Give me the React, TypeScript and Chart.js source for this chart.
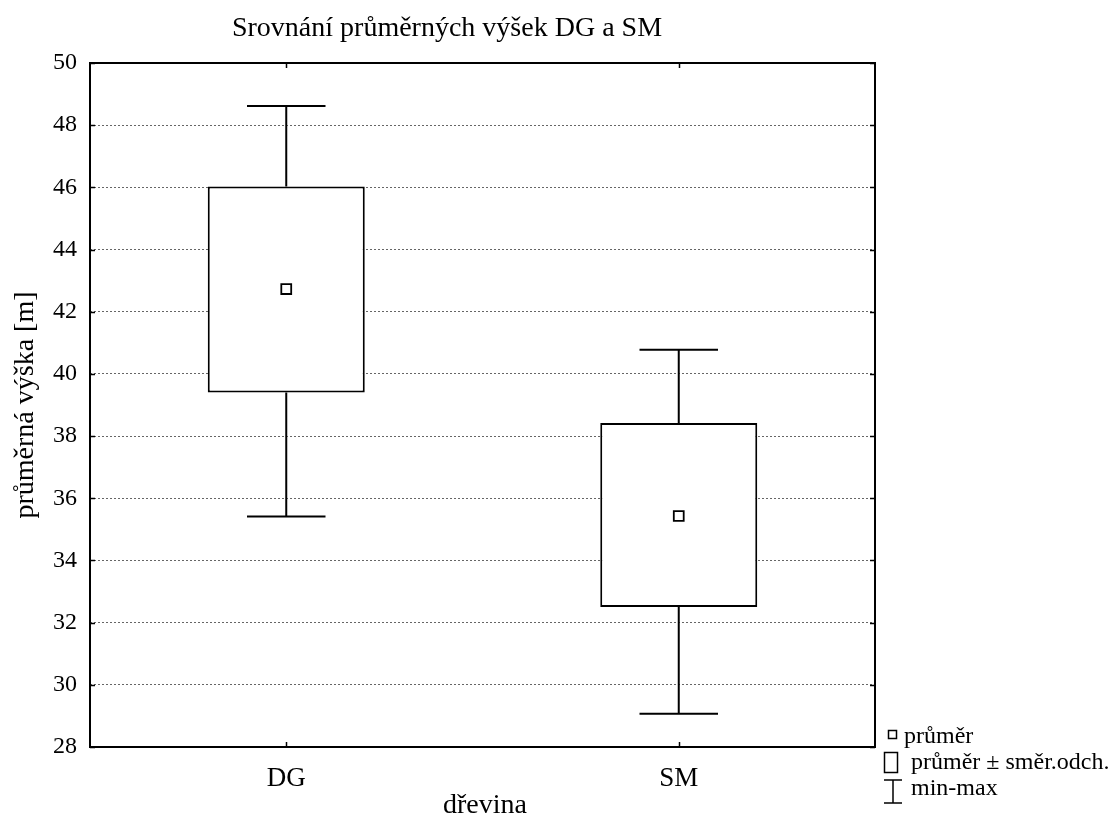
import { useEffect, useRef } from "react";
import { Chart, registerables } from "chart.js";
Chart.register(...registerables);

const categories = ["DG", "SM"];
const means = [42.73, 35.43];
const sdLow = [39.4, 32.5];
const sdHigh = [46.03, 38.42];
const minVals = [35.41, 29.07];
const maxVals = [48.62, 40.78];
const yMin = 28;
const yMax = 50;
const yStep = 2;
const titleText = "Srovnání průměrných výšek DG a SM";
const xTitle = "dřevina";
const yTitle = "průměrná výška [m]";
const legendLabels = ["průměr", "průměr ± směr.odch.", "min-max"];

const FONT = "'Liberation Serif', 'Times New Roman', serif";

const decorPlugin = {
  id: "decor",
  afterDatasetsDraw(chart: any) {
    const { ctx, scales } = chart;
    const x = scales.x;
    const y = scales.y;
    const barMeta = chart.getDatasetMeta(1);
    ctx.save();
    ctx.strokeStyle = "#000";
    ctx.lineWidth = 2;
    categories.forEach((_, i) => {
      const cx = x.getPixelForValue(i);
      const w = barMeta.data[i] ? barMeta.data[i].width : 150;
      const cap = w / 2;
      const yHi = y.getPixelForValue(sdHigh[i]);
      const yLo = y.getPixelForValue(sdLow[i]);
      const yMaxP = y.getPixelForValue(maxVals[i]);
      const yMinP = y.getPixelForValue(minVals[i]);
      ctx.beginPath();
      ctx.moveTo(cx, yHi);
      ctx.lineTo(cx, yMaxP);
      ctx.moveTo(cx - cap / 2, yMaxP);
      ctx.lineTo(cx + cap / 2, yMaxP);
      ctx.moveTo(cx, yLo);
      ctx.lineTo(cx, yMinP);
      ctx.moveTo(cx - cap / 2, yMinP);
      ctx.lineTo(cx + cap / 2, yMinP);
      ctx.stroke();
    });
    ctx.restore();
  },
  afterDraw(chart: any) {
    const { ctx, chartArea, scales } = chart;
    const { left, right, top, bottom } = chartArea;
    const y = scales.y;
    const x = scales.x;
    ctx.save();
    ctx.strokeStyle = "#000";
    ctx.lineWidth = 2;
    ctx.strokeRect(left, top, right - left, bottom - top);
    ctx.lineWidth = 1.5;
    ctx.beginPath();
    for (let v = yMin; v <= yMax; v += yStep) {
      const py = Math.round(y.getPixelForValue(v)) + 0.5;
      ctx.moveTo(left, py);
      ctx.lineTo(left + 5, py);
      ctx.moveTo(right, py);
      ctx.lineTo(right - 5, py);
    }
    categories.forEach((_, i) => {
      const px = Math.round(x.getPixelForValue(i)) + 0.5;
      ctx.moveTo(px, bottom);
      ctx.lineTo(px, bottom - 5);
      ctx.moveTo(px, top);
      ctx.lineTo(px, top + 5);
    });
    ctx.stroke();

    ctx.fillStyle = "#000";
    ctx.textAlign = "center";
    ctx.textBaseline = "middle";
    ctx.font = `28px ${FONT}`;
    ctx.fillText(titleText, 447, 29);
    ctx.fillText(xTitle, 485, 806);
    ctx.save();
    ctx.translate(26, (top + bottom) / 2);
    ctx.rotate(-Math.PI / 2);
    ctx.fillText(yTitle, 0, 0);
    ctx.restore();

    ctx.textAlign = "left";
    ctx.font = `24px ${FONT}`;
    ctx.lineWidth = 1.5;
    ctx.strokeRect(888.5, 730.5, 8, 8);
    ctx.fillText(legendLabels[0], 904, 737);
    ctx.strokeRect(884.5, 752.5, 13, 20);
    ctx.fillText(legendLabels[1], 911, 763);
    ctx.beginPath();
    ctx.moveTo(884, 780);
    ctx.lineTo(902, 780);
    ctx.moveTo(893, 780);
    ctx.lineTo(893, 803);
    ctx.moveTo(884, 803);
    ctx.lineTo(902, 803);
    ctx.stroke();
    ctx.fillText(legendLabels[2], 911, 789);
    ctx.restore();
  },
};

export default function App() {
  const ref = useRef<HTMLCanvasElement>(null);
  useEffect(() => {
    if (!ref.current) return;
    const chart = new Chart(ref.current, {
      type: "bar",
      data: {
        labels: categories,
        datasets: [
          {
            type: "line",
            label: legendLabels[0],
            data: means,
            showLine: false,
            pointStyle: "rect",
            pointRadius: 7,
            pointBackgroundColor: "#fff",
            pointBorderColor: "#000",
            pointBorderWidth: 1.8,
            order: 0,
          } as any,
          {
            type: "bar",
            label: legendLabels[1],
            data: categories.map((_, i) => [sdLow[i], sdHigh[i]]),
            backgroundColor: "#fff",
            borderColor: "#000",
            borderWidth: 2,
            borderSkipped: false,
            barPercentage: 0.4,
            categoryPercentage: 1,
            order: 1,
          } as any,
        ],
      },
      options: {
        animation: false,
        responsive: false,
        maintainAspectRatio: false,
        layout: { padding: { top: 63, right: 241, bottom: 0, left: 0 } },
        plugins: {
          legend: { display: false },
          title: { display: false },
          tooltip: { enabled: false },
        },
        scales: {
          x: {
            type: "category",
            grid: { display: false, drawTicks: false },
            border: { display: false },
            ticks: {
              color: "#000",
              font: { family: FONT, size: 27 },
              padding: 16,
            },
            afterFit(scale: any) {
              scale.height = 87;
            },
          },
          y: {
            min: yMin,
            max: yMax,
            grid: { color: "#666", lineWidth: 1, drawTicks: false },
            border: { display: false, dash: [2, 2] },
            ticks: {
              stepSize: yStep,
              color: "#000",
              font: { family: FONT, size: 24 },
              padding: 13,
            },
            afterFit(scale: any) {
              scale.width = 90;
            },
          },
        },
      },
      plugins: [decorPlugin],
    });
    return () => chart.destroy();
  }, []);
  return (
    <div style={{ position: "fixed", left: 0, top: 0, width: 1116, height: 834, background: "#fff" }}>
      <canvas ref={ref} width={1116} height={834} style={{ width: 1116, height: 834 }} />
    </div>
  );
}
